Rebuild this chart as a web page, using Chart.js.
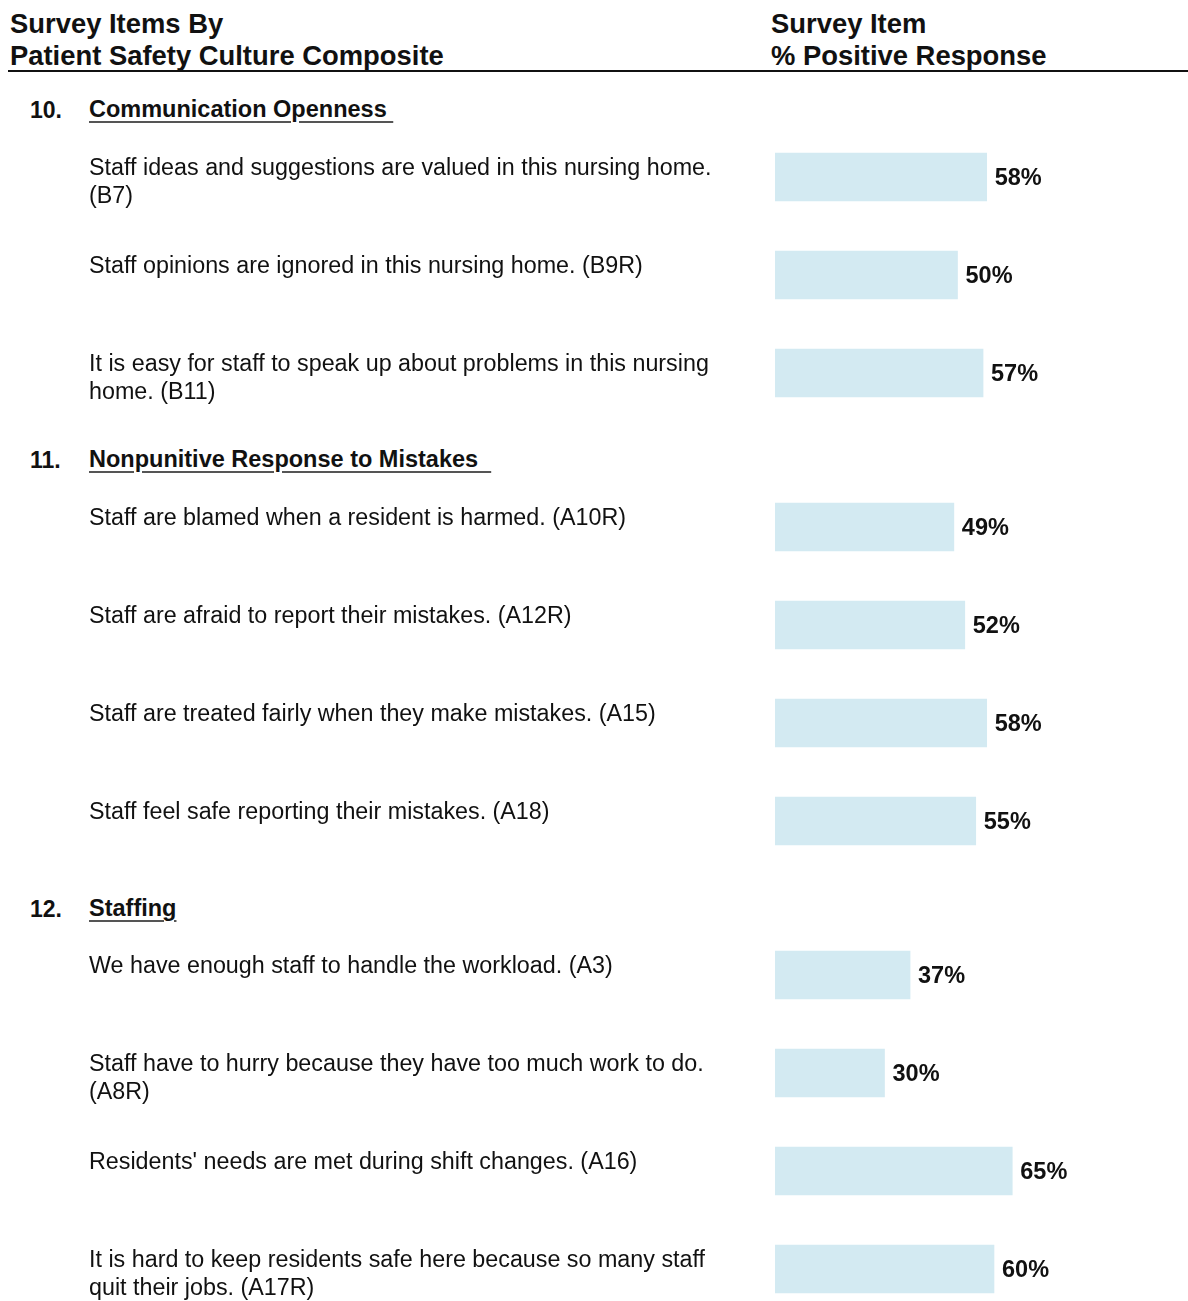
<!DOCTYPE html>
<html>
<head>
<meta charset="utf-8">
<script src="https://cdn.jsdelivr.net/npm/chart.js@4"></script>
<style>
  html, body { margin: 0; padding: 0; background: #fff; }
  body { width: 1188px; height: 1301px; overflow: hidden; position: relative;
         font-family: "Liberation Sans", Arial, sans-serif; color: #111; }
  .head { position: absolute; font-weight: bold; font-size: 27.4px; line-height: 32px; top: 8px; }
  .rule { position: absolute; left: 8px; right: 0; top: 70px; height: 2px; background: #111; }
  .num { position: absolute; left: 30px; font-weight: bold; font-size: 23px; }
  .title { position: absolute; left: 89px; font-weight: bold; font-size: 23.5px;
           text-decoration: underline; text-decoration-color: #555; text-underline-offset: 4px; white-space: pre; }
  .block { position: absolute; left: 0; width: 1188px; }
</style>
</head>
<body>

<div class="head" style="left:10px">Survey Items By<br>Patient Safety Culture Composite</div>
<div class="head" style="left:771px">Survey Item<br>% Positive Response</div>
<div class="rule"></div>

<div class="num" style="top:97px">10.</div>
<div class="title" style="top:96px">Communication Openness </div>
<div class="block" style="top:128px;height:294px"><canvas id="chart1"></canvas></div>

<div class="num" style="top:447px">11.</div>
<div class="title" style="top:446px">Nonpunitive Response to Mistakes  </div>
<div class="block" style="top:478px;height:392px"><canvas id="chart2"></canvas></div>

<div class="num" style="top:896px">12.</div>
<div class="title" style="top:895px">Staffing</div>
<div class="block" style="top:926px;height:392px"><canvas id="chart3"></canvas></div>

<script>
// items per composite, wrapped the way they print
const opennessItems = [
    ['Staff ideas and suggestions are valued in this nursing home.', '(B7)'],
    ['Staff opinions are ignored in this nursing home. (B9R)'],
    ['It is easy for staff to speak up about problems in this nursing', 'home. (B11)']
];
const opennessValues = [58, 50, 57];

const nonpunitiveItems = [
    ['Staff are blamed when a resident is harmed. (A10R)'],
    ['Staff are afraid to report their mistakes. (A12R)'],
    ['Staff are treated fairly when they make mistakes. (A15)'],
    ['Staff feel safe reporting their mistakes. (A18)']
];
const nonpunitiveValues = [49, 52, 58, 55];

const staffingItems = [
    ['We have enough staff to handle the workload. (A3)'],
    ['Staff have to hurry because they have too much work to do.', '(A8R)'],
    ["Residents' needs are met during shift changes. (A16)"],
    ['It is hard to keep residents safe here because so many staff', 'quit their jobs. (A17R)']
];
const staffingValues = [37, 30, 65, 60];

const barColor = '#d3eaf2';

// item text on the left and the percent after each bar
const rowText = {
    id: 'rowText',
    afterDatasetsDraw(chart) {
        const ctx = chart.ctx;
        const meta = chart.getDatasetMeta(0);
        const labels = chart.data.labels;
        const values = chart.data.datasets[0].data;
        ctx.save();
        ctx.fillStyle = '#111';
        ctx.textBaseline = 'middle';
        ctx.textAlign = 'left';
        meta.data.forEach((bar, i) => {
            ctx.font = '23.3px "Liberation Sans", Arial, sans-serif';
            labels[i].forEach((line, k) => {
                ctx.fillText(line, 89, bar.y - 8 + 28 * k);
            });
            ctx.font = 'bold 23.5px "Liberation Sans", Arial, sans-serif';
            ctx.fillText(values[i] + '%', bar.x + 8, bar.y + 2);
        });
        ctx.restore();
    }
};

function makeChart(id, items, values) {
    const ctx = document.getElementById(id).getContext('2d');
    return new Chart(ctx, {
        type: 'bar',
        data: {
            labels: items,
            datasets: [{
                data: values,
                backgroundColor: barColor,
                borderWidth: 0,
                barThickness: 48
            }]
        },
        options: {
            indexAxis: 'y',
            responsive: true,
            maintainAspectRatio: false,
            animation: false,
            layout: { padding: { left: 775, right: 48, top: 0, bottom: 0 } },
            scales: {
                x: { display: false, min: 0, max: 100 },
                y: { display: false }
            },
            plugins: {
                legend: { display: false },
                tooltip: { enabled: false }
            }
        },
        plugins: [rowText]
    });
}

makeChart('chart1', opennessItems, opennessValues);
makeChart('chart2', nonpunitiveItems, nonpunitiveValues);
makeChart('chart3', staffingItems, staffingValues);
</script>
</body>
</html>
